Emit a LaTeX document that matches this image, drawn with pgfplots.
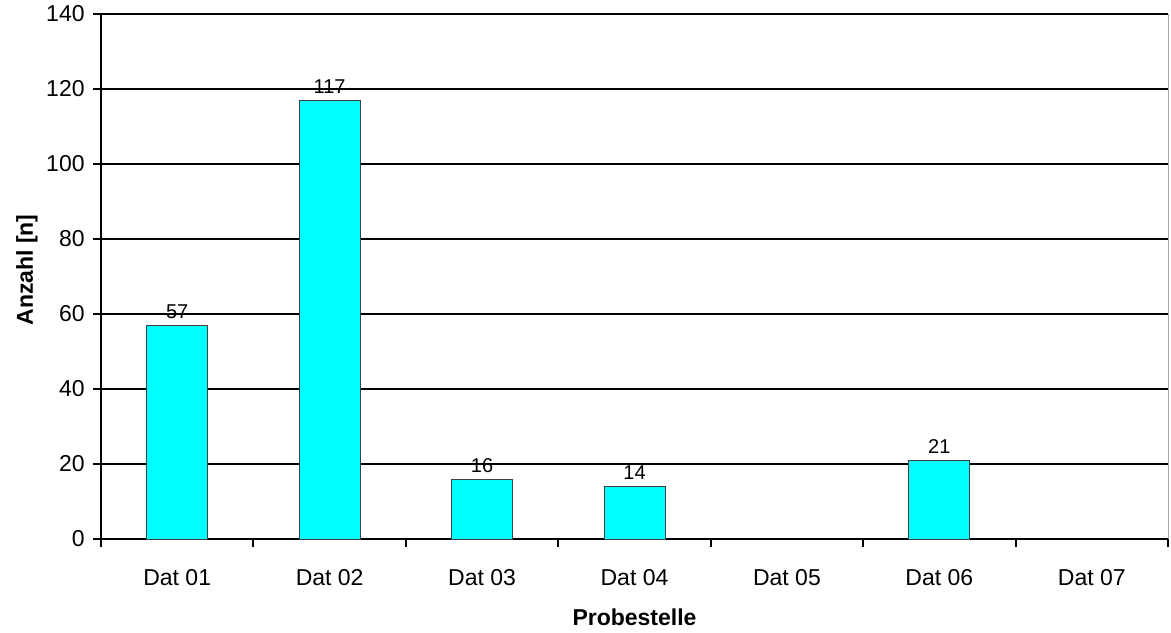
\documentclass[border=0pt]{standalone}
\usepackage{fontspec}
\setmainfont{Liberation Sans}
\usepackage{pgfplots}
\pgfplotsset{compat=1.18}
\definecolor{barcyan}{RGB}{0,255,255}
\begin{document}
\begin{tikzpicture}
\begin{axis}[
  scale only axis,
  width=533.5pt, height=262.5pt,
  xmin=-0.5, xmax=6.5,
  ymin=0, ymax=140,
  ytick={0,20,...,140},
  xtick={0,...,6},
  xticklabels={Dat 01,Dat 02,Dat 03,Dat 04,Dat 05,Dat 06,Dat 07},
  minor xtick={-0.5,0.5,...,6.5},
  major x tick style={draw=none},
  minor tick length=4pt,
  major tick length=4pt,
  tick align=outside,
  axis x line*=bottom,
  axis y line*=left,
  axis line style={black, line width=1pt, -},
  tick style={black, line width=1pt},
  ymajorgrids,
  grid style={black, line width=1pt},
  /pgf/number format/assume math mode=true,
  ticklabel style={font=\fontsize{11.5}{13}\selectfont},
  xticklabel style={anchor=base, inner sep=0pt, yshift=-19.2pt},
  yticklabel style={anchor=east, inner sep=0pt, xshift=-4pt},
  xlabel={Probestelle},
  ylabel={Anzahl [n]},
  xlabel style={font=\fontsize{11.5}{13}\selectfont\bfseries, at={([yshift=-43pt]axis description cs:0.5,0)}, anchor=base, inner sep=0pt},
  ylabel style={font=\fontsize{11.5}{13}\selectfont\bfseries, at={([xshift=-34pt,yshift=3.3pt]axis description cs:0,0.5)}, rotate=0, anchor=base, inner sep=0pt},
  ybar, bar width=30.5pt,
  nodes near coords,
  nodes near coords style={font=\fontsize{10}{12}\selectfont, anchor=base, inner sep=0pt, yshift=3.5pt},
  clip=false,
]
\addplot[fill=barcyan, draw=black!75, line width=0.5pt] coordinates {(0,57) (1,117) (2,16) (3,14) (5,21)};
\draw[black!35, line width=0.5pt] (rel axis cs:1,0) -- (rel axis cs:1,1);
\coordinate (ll) at (rel axis cs:0,0);
\coordinate (ur) at (rel axis cs:1,1);
\end{axis}
\pgfresetboundingbox
\path ([shift={(-50.5pt,-46.5pt)}]ll) rectangle ([shift={(1.5pt,7pt)}]ur);
\end{tikzpicture}
\end{document}
